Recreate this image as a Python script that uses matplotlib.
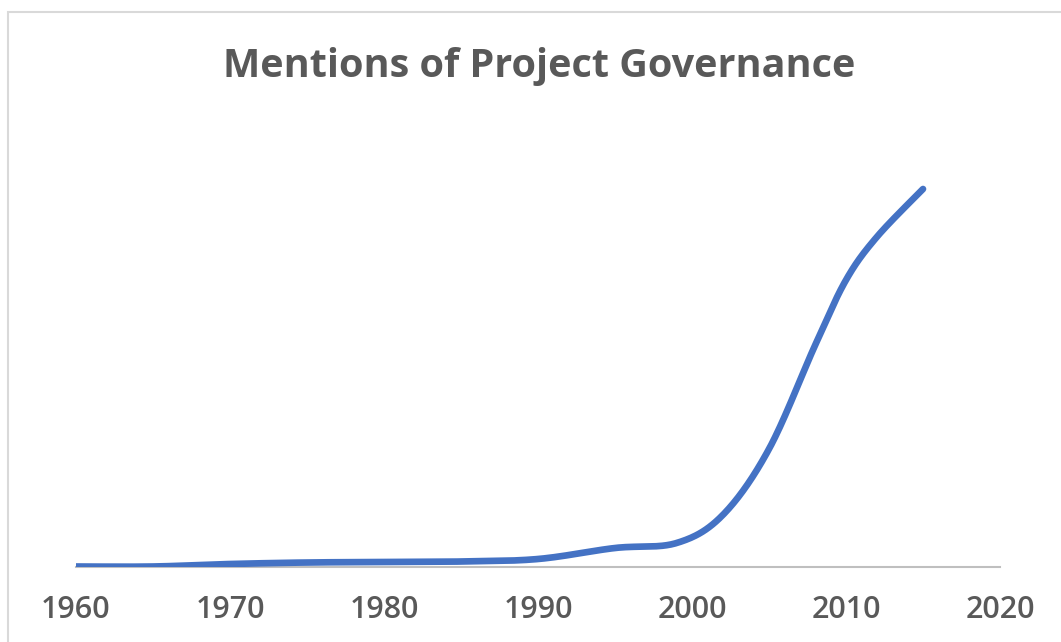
import numpy as np
import matplotlib.pyplot as plt
from matplotlib.patches import Rectangle

# --- Dados (escala arbitrária) ---
anos = [1960, 1965, 1970, 1975, 1980, 1985, 1990, 1995, 1999, 2002, 2005, 2008, 2010, 2012, 2015]
mencoes = [0.5, 0.5, 3, 4.5, 5, 5.5, 8, 19, 24, 52, 118, 222, 287, 330, 378]
ticks_x = [1960, 1970, 1980, 1990, 2000, 2010, 2020]
titulo = 'Mentions of Project Governance'

AZUL = '#4472C4'
CINZA_TEXTO = '#595959'


def suavizar(x, y, n=40):
    # curva suavizada estilo Excel (Bezier com tangentes de Catmull-Rom)
    x = np.asarray(x, float)
    y = np.asarray(y, float)
    px = np.concatenate([[x[0]], x, [x[-1]]])
    py = np.concatenate([[y[0]], y, [y[-1]]])
    xs, ys = [], []
    t = np.linspace(0, 1, n)
    for i in range(1, len(px) - 2):
        p0 = np.array([px[i], py[i]])
        p3 = np.array([px[i + 1], py[i + 1]])
        c1 = p0 + (p3 - np.array([px[i - 1], py[i - 1]])) / 6
        c2 = p3 - (np.array([px[i + 2], py[i + 2]]) - p0) / 6
        b = ((1 - t) ** 3)[:, None] * p0 + (3 * (1 - t) ** 2 * t)[:, None] * c1 \
            + (3 * (1 - t) * t ** 2)[:, None] * c2 + (t ** 3)[:, None] * p3
        xs.append(b[:, 0])
        ys.append(b[:, 1])
    return np.concatenate(xs), np.concatenate(ys)


plt.rcParams['font.family'] = ['Open Sans', 'DejaVu Sans']

fig = plt.figure(figsize=(10.61, 6.42), dpi=100)
W, H = 1061, 642

# moldura cinza do gráfico (cortada à direita e embaixo)
fig.patches.append(Rectangle((8 / W, -0.05), 1.1, 1 - 12 / H + 0.05,
                             transform=fig.transFigure, fill=False,
                             edgecolor='#D9D9D9', linewidth=1.5))

ax = fig.add_axes([76 / W, 1 - 567 / H, 924 / W, (567 - 150) / H])
xs, ys = suavizar(anos, mencoes)
ax.plot(xs, ys, color=AZUL, linewidth=4.8, solid_capstyle='round', zorder=3)

ax.set_xlim(1960, 2020)
ax.set_ylim(0, 417)
ax.set_xticks(ticks_x)
ax.set_xticklabels([str(t) for t in ticks_x], fontsize=22, color=CINZA_TEXTO,
                   fontweight='semibold')
ax.tick_params(axis='x', length=0, pad=20)
ax.set_yticks([])
for lado in ['top', 'right', 'left']:
    ax.spines[lado].set_visible(False)
ax.spines['bottom'].set_color('#BFBFBF')
ax.spines['bottom'].set_linewidth(1.5)
ax.spines['bottom'].set_zorder(2)
ax.patch.set_visible(False)

fig.text(539.5 / W, 1 - 66 / H, titulo, ha='center', va='center',
         fontsize=28.5, fontweight='bold', color=CINZA_TEXTO)

plt.savefig('out.png', dpi=100)
